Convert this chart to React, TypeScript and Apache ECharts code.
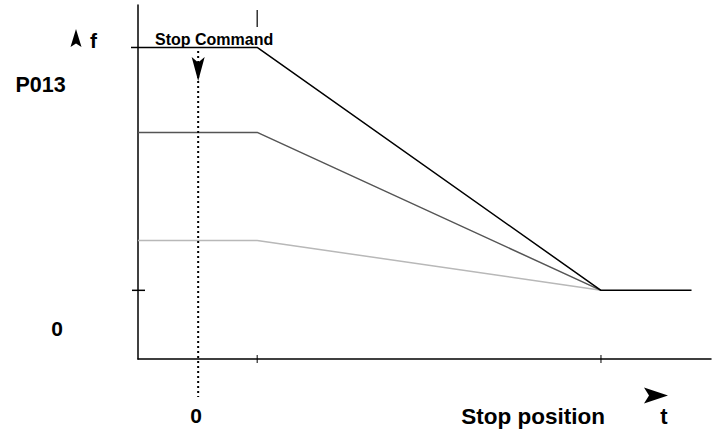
import React, { useEffect, useRef } from "react";
import * as echarts from "echarts";

// time axis (arbitrary units, 0..100 along the drawn axis)
const timeStops = [0, 20.8, 80.8, 96.6]; // start, decel start, stop position, end
const stopCommandT = 10.5;
// frequency levels (arbitrary units, 0..100)
const highSeries = [88, 88, 19.4, 19.4];
const midSeries = [64, 64, 19.4];
const lowSeries = [33.5, 33.5, 19.4];
const stopLevel = 19.4;
const labels = { p013: "P013", zeroF: "0", zeroT: "0", stopCmd: "Stop Command", stopPos: "Stop position", f: "f", t: "t" };

const FONT = "Liberation Sans, Arial, sans-serif";

export default function App() {
  const ref = useRef<HTMLDivElement>(null);
  useEffect(() => {
    if (!ref.current) return;
    const chart = echarts.init(ref.current, null, { renderer: "svg" });
    const pts = (ys: number[]) => ys.map((y, i) => [timeStops[i], y]);
    chart.setOption({
      animation: false,
      grid: { left: 138, top: 5, right: 6, bottom: 73 },
      xAxis: {
        type: "value", min: 0, max: 100,
        axisLine: { show: true, lineStyle: { color: "#000", width: 1.5 } },
        axisTick: { show: false }, axisLabel: { show: false }, splitLine: { show: false },
      },
      yAxis: {
        type: "value", min: 0, max: 100,
        axisLine: { show: true, lineStyle: { color: "#000", width: 1.5 } },
        axisTick: { show: false }, axisLabel: { show: false }, splitLine: { show: false },
      },
      series: [
        { type: "line", data: pts(lowSeries), symbol: "none", lineStyle: { color: "#b8b8b8", width: 1.5 } },
        { type: "line", data: pts(midSeries), symbol: "none", lineStyle: { color: "#555", width: 1.5 } },
        { type: "line", data: pts(highSeries), symbol: "none", lineStyle: { color: "#000", width: 1.5 } },
        {
          type: "line", clip: false, symbol: "none",
          data: [[stopCommandT, 87], [stopCommandT, -10.7]],
          lineStyle: { color: "#000", width: 2, type: [2, 3] },
        },
      ],
    });
    const px = (x: number, y: number) => chart.convertToPixel({ gridIndex: 0 }, [x, y]) as number[];
    const [x0, yTop] = px(0, highSeries[0]);
    const [xDec] = px(timeStops[1], 0);
    const [xStop, yAxisY] = px(timeStops[2], 0);
    const [, yStop] = px(0, stopLevel);
    const [xCmd] = px(stopCommandT, 0);
    const black = { stroke: "#000", lineWidth: 1.5 };
    const txt = (text: string, x: number, y: number, size: number, align = "center") => ({
      type: "text", x, y,
      style: { text, font: `bold ${size}px ${FONT}`, fill: "#000", textAlign: align, textVerticalAlign: "middle" },
    });
    chart.setOption({
      graphic: [
        { type: "line", shape: { x1: x0 - 7, y1: yTop, x2: x0, y2: yTop }, style: black },
        { type: "line", shape: { x1: x0 - 6, y1: yStop, x2: x0 + 7, y2: yStop }, style: black },
        { type: "line", shape: { x1: xDec, y1: yAxisY - 4, x2: xDec, y2: yAxisY + 4 }, style: { stroke: "#000", lineWidth: 1 } },
        { type: "line", shape: { x1: xStop, y1: yAxisY - 4, x2: xStop, y2: yAxisY + 4 }, style: { stroke: "#000", lineWidth: 1 } },
        { type: "line", shape: { x1: xDec, y1: 10, x2: xDec, y2: 27 }, style: { stroke: "#000", lineWidth: 1.2 } },
        // stop command arrow
        { type: "polygon", shape: { points: [[xCmd - 6.5, 57], [xCmd, 62.5], [xCmd + 6.5, 57], [xCmd, 81]] }, style: { fill: "#000" } },
        // f arrow
        { type: "polygon", shape: { points: [[76, 29], [81.5, 47], [76, 43.5], [70.5, 47]] }, style: { fill: "#000" } },
        // t arrow
        { type: "polygon", shape: { points: [[644, 387.5], [668, 395.5], [644, 403.5], [649, 395.5]] }, style: { fill: "#000" } },
        txt(labels.f, 90, 40, 21, "left"),
        txt(labels.stopCmd, 155, 39, 16, "left"),
        txt(labels.p013, 40.5, 85, 21.5),
        txt(labels.zeroF, 57, 328, 21),
        txt(labels.zeroT, xCmd - 2, 415, 21),
        txt(labels.stopPos, xStop + 4, 416, 22.5, "right"),
        txt(labels.t, 664, 416, 22),
      ],
    });
    return () => chart.dispose();
  }, []);
  return <div ref={ref} style={{ position: "absolute", left: 0, top: 0, width: 717, height: 432 }} />;
}
